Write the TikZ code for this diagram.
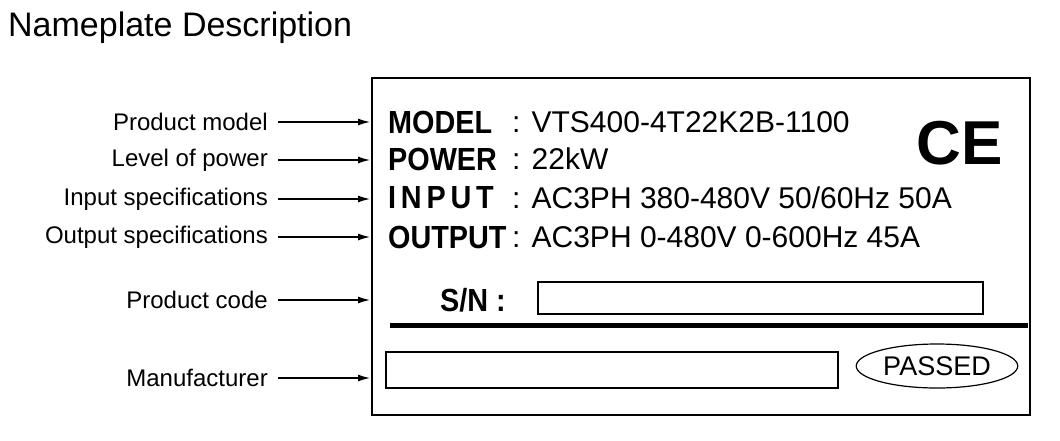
\documentclass[tikz,border=0pt]{standalone}
\usepackage{fontspec}
\setmainfont{Liberation Sans}
\usetikzlibrary{positioning,shapes.geometric,arrows.meta}
\begin{document}
\begin{tikzpicture}[x=1pt,y=-1pt,
  lbl/.style={anchor=east,inner sep=0pt,font=\fontsize{24}{24}\selectfont},
  key/.style={anchor=west,inner sep=0pt,xscale=0.9,transform shape,font=\fontsize{32}{32}\selectfont\bfseries},
  val/.style={anchor=west,inner sep=0pt,font=\fontsize{30}{30}\selectfont},
  arr/.style={-{Latex[length=12pt,width=7pt]},line width=1.2pt}]
\useasboundingbox (0,0) rectangle (1060,440);
\node[anchor=west,inner sep=0pt,font=\fontsize{34}{34}\selectfont] (title) at (8,28) {Nameplate Description};
% plate
\draw[line width=1.6pt] (372,78) rectangle (1030,415);
\draw[line width=5pt] (390,325) -- (1028,325);
%Text
\node[key] (model) at (388,122) {MODEL};
\node[val] (modelv) at (512,122) {: VTS400-4T22K2B-1100};
\node[key] (power) at (388,159) {POWER};
\node[val] (powerv) at (512,159) {: 22kW};
\node[key] (input) at (388,198) {I\,N\,P\,U\,T};
\node[val] (inputv) at (512,198) {: AC3PH 380-480V 50/60Hz 50A};
\node[key] (output) at (388,237) {OUTPUT};
\node[val] (outputv) at (512,237) {: AC3PH 0-480V 0-600Hz 45A};
\node[key] (sn) at (440,300) {S/N :};
\draw[line width=1.4pt] (538,282) rectangle (983,314);
\draw[line width=1.4pt] (386,352) rectangle (838,388);
\node[draw,ellipse,line width=1.2pt,minimum width=154pt,minimum height=44pt,font=\fontsize{27}{27}\selectfont] (passed) at (937,366) {PASSED};
\node[font=\fontsize{62}{62}\selectfont\bfseries,inner sep=0pt] (ce) at (960,143) {CE};
% labels
\node[lbl] (l1) at (268,122) {Product model};
\node[lbl] (l2) at (268,160) {Level of power};
\node[lbl] (l3) at (268,199) {Input specifications};
\node[lbl] (l4) at (268,237) {Output specifications};
\node[lbl] (l5) at (268,300) {Product code};
\node[lbl] (l6) at (268,378) {Manufacturer};
\foreach \i in {1,...,6} \draw[arr] ([xshift=10pt]l\i.east) -- ++(92,0);
\end{tikzpicture}
\end{document}
